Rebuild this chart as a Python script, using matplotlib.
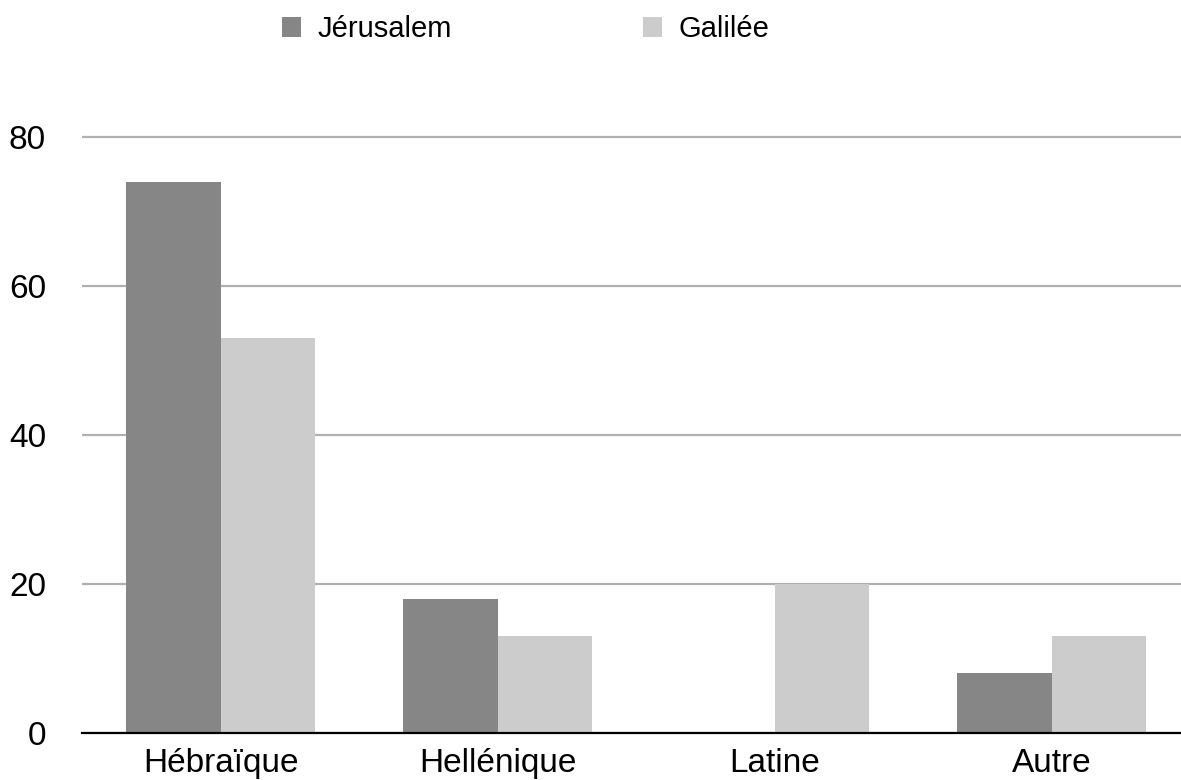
import matplotlib
matplotlib.use("Agg")
import matplotlib.pyplot as plt
import numpy as np

categories = ["Hébraïque", "Hellénique", "Latine", "Autre"]
series_names = ["Jérusalem", "Galilée"]
jerusalem = [74, 18, 0, 8]
galilee = [53, 13, 20, 13]
yticks = [0, 20, 40, 60, 80]

c_dark = "#858685"
c_light = "#CBCCCB"

plt.rcParams['font.family'] = ['Liberation Sans', 'DejaVu Sans']

fig = plt.figure(figsize=(11.81, 7.80), dpi=100)
W, H = 1181, 780
left = 82 / W
bottom = 1 - 733 / H
ytop = 80.6
height = (596 * ytop / 80) / H
width = (277 * 4) / W
ax = fig.add_axes([left, bottom, width, height])

x = np.arange(len(categories))
bw = 0.34
b1 = ax.bar(x - bw / 2, jerusalem, bw, color=c_dark, label=series_names[0], zorder=3)
b2 = ax.bar(x + bw / 2, galilee, bw, color=c_light, label=series_names[1], zorder=3)

ax.set_xlim(-0.5, 3.5)
ax.set_ylim(0, ytop)
ax.set_yticks(yticks)
ax.set_xticks(x)
ax.set_xticklabels(categories)
ax.tick_params(axis='both', length=0, labelsize=24)
ax.tick_params(axis='y', pad=26)
ax.tick_params(axis='x', pad=11)
for s in ['top', 'right', 'left']:
    ax.spines[s].set_visible(False)
ax.spines['bottom'].set_color('black')
ax.spines['bottom'].set_linewidth(1.6)
ax.spines['bottom'].set_zorder(4)
ax.yaxis.grid(True, color="#B0B0B0", linewidth=1.6, zorder=0)
ax.set_axisbelow(True)

lfs = 21
lpx = lfs * 100 / 72
for handle, name, xpx in [(b1, series_names[0], 282), (b2, series_names[1], 643)]:
    fig.legend(handles=[handle], labels=[name], loc='center left',
               bbox_to_anchor=(xpx / W, 1 - 29 / H), frameon=False,
               fontsize=lfs,
               handlelength=19 / lpx, handleheight=19 / lpx,
               handletextpad=17 / lpx, borderaxespad=0, borderpad=0)

fig.savefig("out.png", dpi=100)
